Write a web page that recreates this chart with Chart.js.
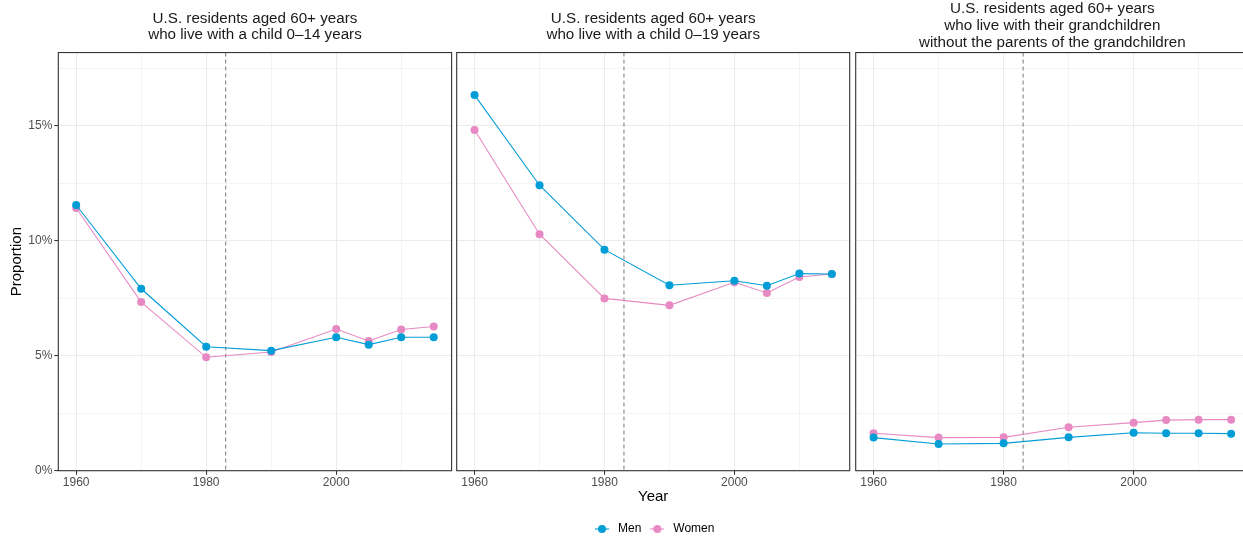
<!DOCTYPE html>
<html>
<head>
<meta charset="utf-8">
<script src="https://cdn.jsdelivr.net/npm/chart.js@4.4.0/dist/chart.umd.min.js"></script>
<style>
html,body{margin:0;padding:0;background:#fff;overflow:hidden}
#wrap{position:relative;width:1243px;height:540px;overflow:hidden}
#wrap canvas{position:absolute;top:0}
</style>
</head>
<body>
<div id="wrap">
  <canvas id="c1" width="458" height="540" style="left:0px"></canvas>
  <canvas id="c2" width="412" height="545" style="left:450px"></canvas>
  <canvas id="c3" width="406" height="540" style="left:849px"></canvas>
</div>
<script>
/* data (percent of residents aged 60+) */
const YEARS = [1960, 1970, 1980, 1990, 2000, 2005, 2010, 2015];

const MEN_0_14    = [11.55, 7.91, 5.39, 5.22, 5.80, 5.48, 5.80, 5.80];
const WOMEN_0_14  = [11.42, 7.33, 4.93, 5.16, 6.16, 5.64, 6.14, 6.27];
const MEN_0_19    = [16.33, 12.41, 9.61, 8.06, 8.26, 8.04, 8.57, 8.55];
const WOMEN_0_19  = [14.81, 10.28, 7.49, 7.19, 8.19, 7.73, 8.42, 8.55];
const MEN_GRAND   = [1.44, 1.16, 1.19, 1.45, 1.65, 1.63, 1.63, 1.61];
const WOMEN_GRAND = [1.63, 1.44, 1.45, 1.89, 2.09, 2.20, 2.22, 2.22];

const TITLE_0_14  = ['U.S. residents aged 60+ years', 'who live with a child 0\u201314 years'];
const TITLE_0_19  = ['U.S. residents aged 60+ years', 'who live with a child 0\u201319 years'];
const TITLE_GRAND = ['U.S. residents aged 60+ years', 'who live with their grandchildren', 'without the parents of the grandchildren'];

const SERIES_NAMES = ['Men', 'Women'];
const SERIES_COLORS = ['#009DD6', '#E78AC3'];

/* axes */
const X_TICKS = [1960, 1970, 1980, 1990, 2000, 2010];
const X_LABELED = [1960, 1980, 2000];
const Y_TICKS = [0, 2.5, 5, 7.5, 10, 12.5, 15, 17.5];
const Y_LABELED = [0, 5, 10, 15];
const X_MIN = 1957.25, X_MAX = 2017.75;
const Y_MIN = 0, Y_MAX = 18.18;
const DASH_YEAR = 1983;

Chart.defaults.font.family = '"Liberation Sans", Arial, Helvetica, sans-serif';

/* helpers */
function pts(arr){ return YEARS.map((yr,i)=>({x:yr, y:arr[i]})); }

function legendMarker(color){
  const c = document.createElement('canvas');
  c.width = 14; c.height = 10;
  const g = c.getContext('2d');
  g.strokeStyle = color; g.lineWidth = 1.1;
  g.beginPath(); g.moveTo(0,5); g.lineTo(14,5); g.stroke();
  g.fillStyle = color;
  g.beginPath(); g.arc(7,5,4,0,Math.PI*2); g.fill();
  return c;
}

function gridWidth(list){
  return c => (c.tick && list.includes(c.tick.value)) ? 1.07 : 0.53;
}
function tickColor(list){
  return c => (c.tick && list.includes(c.tick.value)) ? '#333333' : 'rgba(0,0,0,0)';
}

/* dashed reference line + panel border */
const panelFrame = {
  id: 'panelFrame',
  beforeDatasetsDraw(chart){
    const {ctx, chartArea:a, scales:{x}} = chart;
    const px = x.getPixelForValue(DASH_YEAR);
    ctx.save();
    ctx.strokeStyle = '#777777'; ctx.lineWidth = 1; ctx.setLineDash([4,3]);
    ctx.beginPath(); ctx.moveTo(px, a.top); ctx.lineTo(px, a.bottom); ctx.stroke();
    ctx.restore();
  },
  afterDraw(chart){
    const {ctx, chartArea:a} = chart;
    ctx.save();
    ctx.strokeStyle = '#333333'; ctx.lineWidth = 1.1;
    ctx.strokeRect(a.left, a.top, a.right-a.left, a.bottom-a.top);
    ctx.restore();
  }
};

function makePanel(id, title, men, women, o){
  const datasets = [men, women].map((arr,i)=>({
    label: SERIES_NAMES[i],
    data: pts(arr),
    borderColor: SERIES_COLORS[i],
    backgroundColor: SERIES_COLORS[i],
    borderWidth: 1.1,
    pointRadius: 4,
    pointBorderWidth: 0,
    tension: 0
  }));

  return new Chart(document.getElementById(id).getContext('2d'), {
    type: 'line',
    data: { datasets },
    plugins: [panelFrame],
    options: {
      responsive: false,
      animation: false,
      events: [],
      layout: { padding: { left:o.padLeft, right:o.padRight, top:0, bottom:0 } },
      plugins: {
        tooltip: { enabled:false },
        title: {
          display: true, text: title, fullSize: false, color: '#1a1a1a',
          font: { size:15.2, weight:'normal', lineHeight:1.1 },
          padding: { top:o.titleTop, bottom:o.titleBottom }
        },
        legend: {
          display: o.legend, position: 'bottom',
          labels: {
            usePointStyle: true, pointStyleWidth: 20, padding: 6,
            color: '#000', font: { size:12 },
            generateLabels(chart){
              const items = Chart.defaults.plugins.legend.labels.generateLabels(chart);
              items.forEach((it,i)=>{ it.pointStyle = legendMarker(SERIES_COLORS[i]); });
              return items;
            }
          }
        }
      },
      scales: {
        x: {
          type: 'linear', min: X_MIN, max: X_MAX,
          afterBuildTicks: s => { s.ticks = X_TICKS.map(v=>({value:v})); },
          afterFit: s => { s.height = o.xHeight; },
          ticks: {
            callback: v => X_LABELED.includes(v) ? String(v) : '',
            color: '#4d4d4d', font: { size:12 }, padding: 1,
            maxRotation: 0, autoSkip: false
          },
          grid: { color:'#ebebeb', lineWidth:gridWidth(X_LABELED), tickLength:4, tickColor:tickColor(X_LABELED) },
          border: { display:false },
          title: {
            display: o.xTitle, text: 'Year', color: '#000',
            font: { size:15 }, padding: { top:0, bottom:11.3 }
          }
        },
        y: {
          min: Y_MIN, max: Y_MAX,
          afterBuildTicks: s => { s.ticks = Y_TICKS.map(v=>({value:v})); },
          afterFit: s => { s.width = o.yWidth; },
          ticks: {
            display: o.yAxis,
            callback: v => Y_LABELED.includes(v) ? v + '%' : '',
            color: '#4d4d4d', font: { size:12 }, padding: 2, autoSkip: false
          },
          grid: { color:'#ebebeb', lineWidth:gridWidth(Y_LABELED), drawTicks:o.yAxis, tickLength:4, tickColor:tickColor(Y_LABELED) },
          border: { display:false },
          title: {
            display: o.yAxis, text: 'Proportion', color: '#000',
            font: { size:15 }, padding: { top:8, bottom:0 }
          }
        }
      }
    }
  });
}

/* panels */
makePanel('c1', TITLE_0_14, MEN_0_14, WOMEN_0_14,
  { padLeft:0, padRight:6.4, yWidth:58.3, yAxis:true, xHeight:69.3, xTitle:false, legend:false, titleTop:9.95, titleBottom:9.15 });
makePanel('c2', TITLE_0_19, MEN_0_19, WOMEN_0_19,
  { padLeft:6.7, padRight:12.3, yWidth:0, yAxis:false, xHeight:46.3, xTitle:true, legend:true, titleTop:9.95, titleBottom:9.15 });
makePanel('c3', TITLE_GRAND, MEN_GRAND, WOMEN_GRAND,
  { padLeft:6.7, padRight:6, yWidth:0, yAxis:false, xHeight:69.3, xTitle:false, legend:false, titleTop:0.65, titleBottom:1.75 });
</script>
</body>
</html>
